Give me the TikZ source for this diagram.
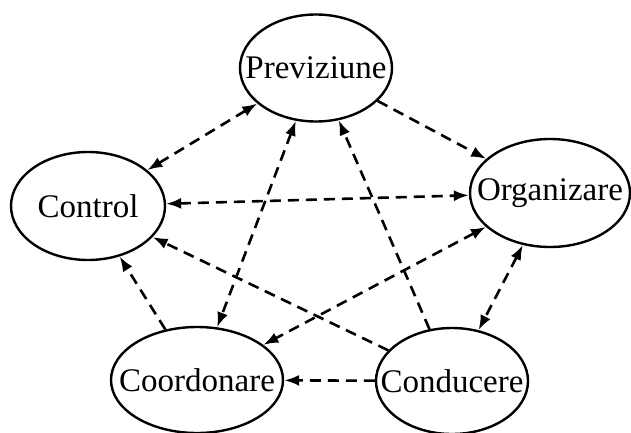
\documentclass[tikz,border=0pt]{standalone}
\usepackage{fontspec}
\setmainfont{Liberation Serif}
\usetikzlibrary{shapes.geometric,arrows.meta}
\begin{document}
\begin{tikzpicture}[x=0.5pt,y=-0.5pt,
    stage/.style={draw, ellipse, line width=1.2pt, inner sep=0pt, font=\fontsize{16.5}{19}\selectfont},
    link/.style={dash pattern=on 5.5pt off 3.5pt, line width=1.3pt, -{Latex[length=7.5pt,width=5.5pt]}},
    twoway/.style={link, {Latex[length=7.5pt,width=5.5pt]}-{Latex[length=7.5pt,width=5.5pt]}}]
    \useasboundingbox (0,0) rectangle (631,433);

    % the five functions
    \node[stage, minimum width=76pt, minimum height=53.5pt] (prev) at (316,68) {\makebox[0pt]{Previziune}};
    \node[stage, minimum width=77pt, minimum height=54pt] (ctrl) at (88,206) {\makebox[0pt]{Control}};
    \node[stage, minimum width=80pt, minimum height=54pt] (org) at (550,193) {\makebox[0pt]{Organizare}};
    \node[stage, minimum width=86pt, minimum height=53pt] (coord) at (197,380) {\makebox[0pt]{Coordonare}};
    \node[stage, minimum width=76pt, minimum height=53pt] (cond) at (452,381) {\makebox[0pt]{Conducere}};

    % links
    \draw[twoway] (ctrl) -- (prev);
    \draw[link] (prev) -- (org);
    \draw[twoway] (ctrl) -- (org);
    \draw[twoway] (prev) -- (coord);
    \draw[link] (cond) -- (prev);
    \draw[link] (cond) -- (ctrl);
    \draw[link] (coord) -- (ctrl);
    \draw[twoway] (org) -- (coord);
    \draw[twoway] (org) -- (cond);
    \draw[link] (cond) -- (coord);

\end{tikzpicture}
\end{document}
